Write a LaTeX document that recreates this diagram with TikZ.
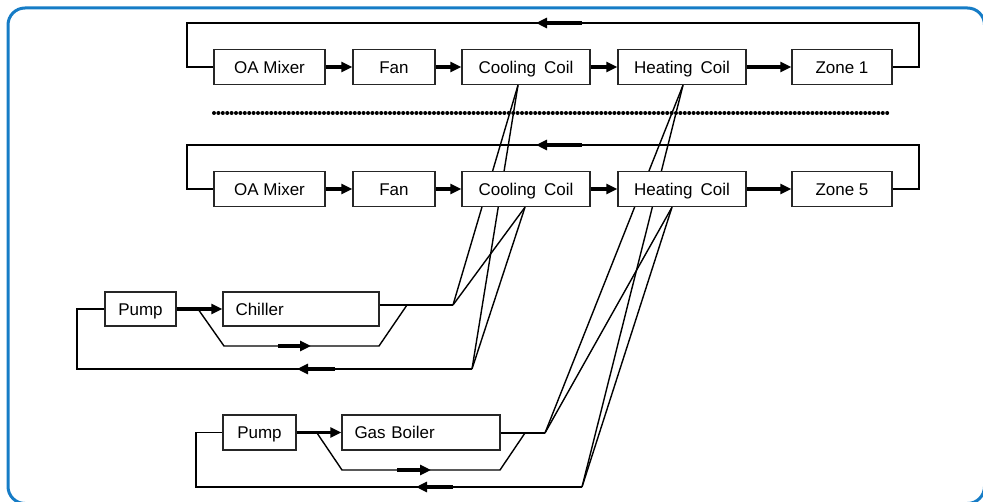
\documentclass[tikz,border=0pt]{standalone}
\usepackage{fontspec}
\setmainfont{Liberation Sans}
\usetikzlibrary{arrows.meta,backgrounds}
\definecolor{framblue}{RGB}{22,124,198}
\begin{document}
\begin{tikzpicture}[x=1pt,y=-1pt,
  box/.style={draw=black!85,line width=1.4pt,fill=white,inner sep=0pt,
    minimum height=35pt,text height=12.2pt,text depth=0pt,
    font=\fontsize{17}{20}\selectfont},
  lbox/.style={box,align=left,inner xsep=12.5pt},
  pipe/.style={draw=black,line width=1.4pt},
  flow/.style={draw=black,line width=3.2pt,-{Triangle[length=11pt,width=10pt]}},
  dotline/.style={draw=black,line width=4pt,line cap=round,dash pattern=on 0pt off 4.4pt},
  framestyle/.style={draw=framblue,line width=3pt,rounded corners=17pt}]
\useasboundingbox (0,0) rectangle (983,502);
\path[framestyle] (8,8) rectangle (984.5,503.5);

% ---- air loop rows
\node[box,minimum width=111pt] (oa1) at (269.5,67) {OA Mixer};
\node[box,minimum width=82pt]  (fan1) at (394,67) {Fan};
\node[box,minimum width=128pt] (cc1) at (526,67) {Cooling\hspace{8pt}Coil};
\node[box,minimum width=128pt] (hc1) at (682,67) {Heating\hspace{8pt}Coil};
\node[box,minimum width=100pt] (z1) at (842,67) {Zone 1};

\node[box,minimum width=111pt] (oa2) at (269.5,189) {OA Mixer};
\node[box,minimum width=82pt]  (fan2) at (394,189) {Fan};
\node[box,minimum width=128pt] (cc2) at (526,189) {Cooling\hspace{8pt}Coil};
\node[box,minimum width=128pt] (hc2) at (682,189) {Heating\hspace{8pt}Coil};
\node[box,minimum width=100pt] (z2) at (842,189) {Zone 5};

% ---- plant loops
\node[box,minimum width=71pt,minimum height=34pt] (pump1) at (140.5,309) {Pump};
\node[lbox,text width=131pt,minimum height=34pt] (chiller) at (301,309) {Chiller};
\node[box,minimum width=73pt] (pump2) at (259.5,432.5) {Pump};
\node[lbox,text width=133pt] (boiler) at (421,432.5) {Gas Boiler};

% junction coordinates
\coordinate (cj) at (453,305);
\coordinate (cr) at (472,369);
\coordinate (bj) at (545,433);
\coordinate (br) at (582,487);
\coordinate (cc1p) at ([xshift=-8pt]cc1.south);
\coordinate (cc2p) at ([xshift=-1pt]cc2.south);
\coordinate (hc1p) at ([xshift=1pt]hc1.south);
\coordinate (hc2p) at ([xshift=-10pt]hc2.south);

\begin{scope}[on background layer]
  \draw[pipe] (cc1p) -- (cj);
  \draw[pipe] (cc1p) -- (cr);
  \draw[pipe] (hc1p) -- (bj);
  \draw[pipe] (hc1p) -- (br);
\end{scope}
\draw[pipe] (cc2p) -- (cj);
\draw[pipe] (cc2p) -- (cr);
\draw[pipe] (hc2p) -- (bj);
\draw[pipe] (hc2p) -- (br);

% row flows
\foreach \r in {1,2}{
  \draw[flow] (oa\r.east) -- (fan\r.west);
  \draw[flow] (fan\r.east) -- (cc\r.west);
  \draw[flow] (cc\r.east) -- (hc\r.west);
  \draw[flow] (hc\r.east) -- (z\r.west);
}
% return air loops
\coordinate (fr1) at (919,23);
\coordinate (fl1) at (187,23);
\coordinate (fr2) at (919,145);
\coordinate (fl2) at (187,145);
\draw[pipe] (z1.east) -| (fr1) -- (fl1) |- (oa1.west);
\draw[pipe] (z2.east) -| (fr2) -- (fl2) |- (oa2.west);
\draw[flow] (582,23) -- (536,23);
\draw[flow] (582,145) -- (536,145);

% dotted separator
\draw[dotline] (214,113) -- (889,113);

% chilled water loop
\draw[flow] (pump1.east) -- (chiller.west);
\draw[pipe] (chiller.east |- cj) -- (cj);
\coordinate (b1a) at (198,309);
\coordinate (b1b) at (224,346);
\coordinate (b1c) at (379,346);
\coordinate (b1d) at (407,305);
\draw[pipe] (b1a) -- (b1b) -- (b1c) -- (b1d);
\draw[flow] (278,346) -- (311,346);
\coordinate (r1) at (77,369);
\draw[pipe] (cr) -- (r1) |- (pump1.west);
\draw[flow] (335,369) -- (297,369);

% hot water loop
\draw[flow] (pump2.east) -- (boiler.west);
\draw[pipe] (boiler.east |- bj) -- (bj);
\coordinate (b2a) at (317,433);
\coordinate (b2b) at (342,470);
\coordinate (b2c) at (500,470);
\coordinate (b2d) at (525,433);
\draw[pipe] (b2a) -- (b2b) -- (b2c) -- (b2d);
\draw[flow] (397,470) -- (431,470);
\coordinate (r2) at (196,487);
\draw[pipe] (br) -- (r2) |- (pump2.west);
\draw[flow] (453,487) -- (416,487);
\end{tikzpicture}
\end{document}
